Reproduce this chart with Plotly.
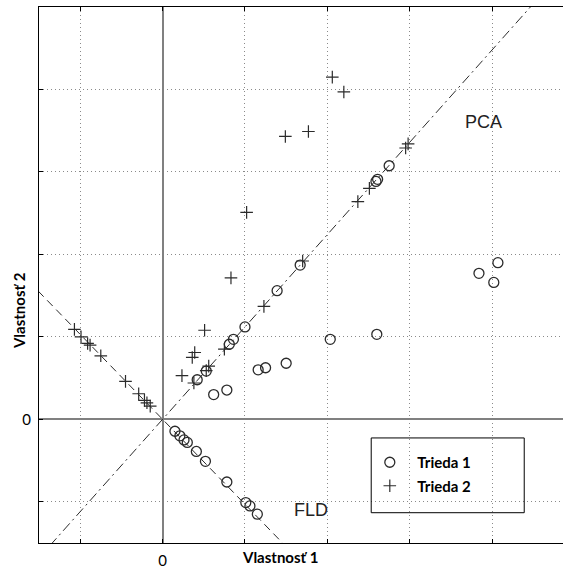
import plotly.graph_objects as go

# Trieda 1: original points and their projections onto the PCA and FLD directions
t1_x = [0.62, 0.78, 1.16, 1.25, 1.50, 2.035, 2.60, 3.84, 4.02, 4.07]
t1_y = [0.30, 0.355, 0.60, 0.625, 0.68, 0.97, 1.03, 1.77, 1.66, 1.90]
t1_pca_x = [0.42, 0.53, 0.81, 0.86, 1.00, 1.39, 1.67, 2.59, 2.61, 2.75]
t1_pca_y = [0.48, 0.585, 0.91, 0.97, 1.12, 1.56, 1.87, 2.885, 2.91, 3.075]
t1_fld_x = [0.15, 0.21, 0.26, 0.30, 0.41, 0.52, 0.78, 1.01, 1.06, 1.15]
t1_fld_y = [-0.145, -0.20, -0.25, -0.28, -0.39, -0.51, -0.76, -1.01, -1.05, -1.15]

# Trieda 2: original points and their projections
t2_x = [0.235, 0.36, 0.39, 0.51, 0.83, 1.02, 1.49, 1.77, 2.06, 2.20]
t2_y = [0.53, 0.75, 0.81, 1.08, 1.715, 2.51, 3.43, 3.49, 4.15, 3.97]
t2_pca_x = [0.38, 0.53, 0.56, 0.75, 1.23, 1.70, 2.37, 2.51, 2.95, 2.98]
t2_pca_y = [0.44, 0.59, 0.645, 0.85, 1.37, 1.92, 2.64, 2.80, 3.29, 3.34]
t2_fld_x = [-1.07, -0.99, -0.91, -0.88, -0.75, -0.45, -0.29, -0.22, -0.19, -0.15]
t2_fld_y = [1.09, 1.00, 0.92, 0.90, 0.77, 0.46, 0.31, 0.23, 0.20, 0.16]

# Projection directions (slopes through the origin)
pca_slope = 1.12
fld_slope = -1.03

x_range = [-1.5, 4.86]
y_range = [-1.5, 5.0]
tick_vals = [-1, 0, 1, 2, 3, 4]
tick_text = ["", "0", "", "", "", ""]

INK = "#2b2b2b"
fig = go.Figure()

line_x = [x_range[0] - 1, x_range[1] + 1]
fig.add_trace(go.Scatter(
    x=line_x, y=[pca_slope * v for v in line_x], mode="lines",
    line=dict(color=INK, width=1, dash="10px,4px,2px,4px"),
    showlegend=False, hoverinfo="skip"))
fig.add_trace(go.Scatter(
    x=line_x, y=[fld_slope * v for v in line_x], mode="lines",
    line=dict(color=INK, width=1, dash="8px,5px"),
    showlegend=False, hoverinfo="skip"))

circle = dict(symbol="circle-open", size=10, color=INK, line=dict(width=1.3, color=INK))
cross = dict(symbol="cross-thin-open", size=9, color=INK, line=dict(width=1.2, color=INK))

for i, (xs, ys) in enumerate([(t1_x, t1_y), (t1_pca_x, t1_pca_y), (t1_fld_x, t1_fld_y)]):
    fig.add_trace(go.Scatter(x=xs, y=ys, mode="markers", marker=circle,
                             name="Trieda 1", legendgroup="t1", showlegend=(i == 0)))
for i, (xs, ys) in enumerate([(t2_x, t2_y), (t2_pca_x, t2_pca_y), (t2_fld_x, t2_fld_y)]):
    fig.add_trace(go.Scatter(x=xs, y=ys, mode="markers", marker=cross,
                             name="Trieda 2", legendgroup="t2", showlegend=(i == 0)))

axis_common = dict(
    showgrid=True, gridcolor="#8a8a8a", gridwidth=1, griddash="1px,3px",
    zeroline=True, zerolinecolor="#808080", zerolinewidth=1.6,
    showline=True, linecolor="black", linewidth=1,
    ticks="inside", ticklen=4, tickcolor="black", tickwidth=1,
    tickvals=tick_vals, ticktext=tick_text,
    tickfont=dict(family="Lato", size=15, color="black"),
    fixedrange=True,
)

fig.update_layout(
    width=563, height=569,
    margin=dict(l=39, r=0, t=7, b=26),
    paper_bgcolor="white", plot_bgcolor="white",
    xaxis=dict(range=x_range, mirror="ticks", ticklabelstandoff=4, **axis_common),
    yaxis=dict(range=y_range, mirror=False, ticklabelstandoff=4, **axis_common),
    legend=dict(
        x=0.617, y=0.181, xanchor="left", yanchor="top",
        bgcolor="rgba(0,0,0,0)", borderwidth=0,
        font=dict(family="Lato", size=15, color="black", weight="bold"),
        traceorder="grouped", tracegroupgap=1, itemwidth=45,
    ),
    font=dict(family="Lato", color="black"),
    shapes=[dict(type="rect", xref="paper", yref="paper",
                 x0=0.634, x1=0.926, y0=0.0565, y1=0.196,
                 line=dict(color="black", width=1), fillcolor="rgba(0,0,0,0)")],
    annotations=[
        dict(text="PCA", x=3.9, y=3.6, xref="x", yref="y", showarrow=False,
             font=dict(family="Liberation Sans", size=18, color="#222")),
        dict(text="FLD", x=1.8, y=-1.1, xref="x", yref="y", showarrow=False,
             font=dict(family="Liberation Sans", size=18, color="#222")),
        dict(text="Vlastnosť 1", x=(280 - 39) / 524, y=-0.026, xref="paper", yref="paper",
             xanchor="center", yanchor="middle", showarrow=False,
             font=dict(family="Lato", size=15, color="black", weight="bold")),
        dict(text="Vlastnosť 2", x=-0.038, y=(543 - 311) / 536, xref="paper", yref="paper",
             xanchor="center", yanchor="middle", showarrow=False, textangle=-90,
             font=dict(family="Lato", size=15, color="black", weight="bold")),
    ],
)

fig.write_html("out.html")
